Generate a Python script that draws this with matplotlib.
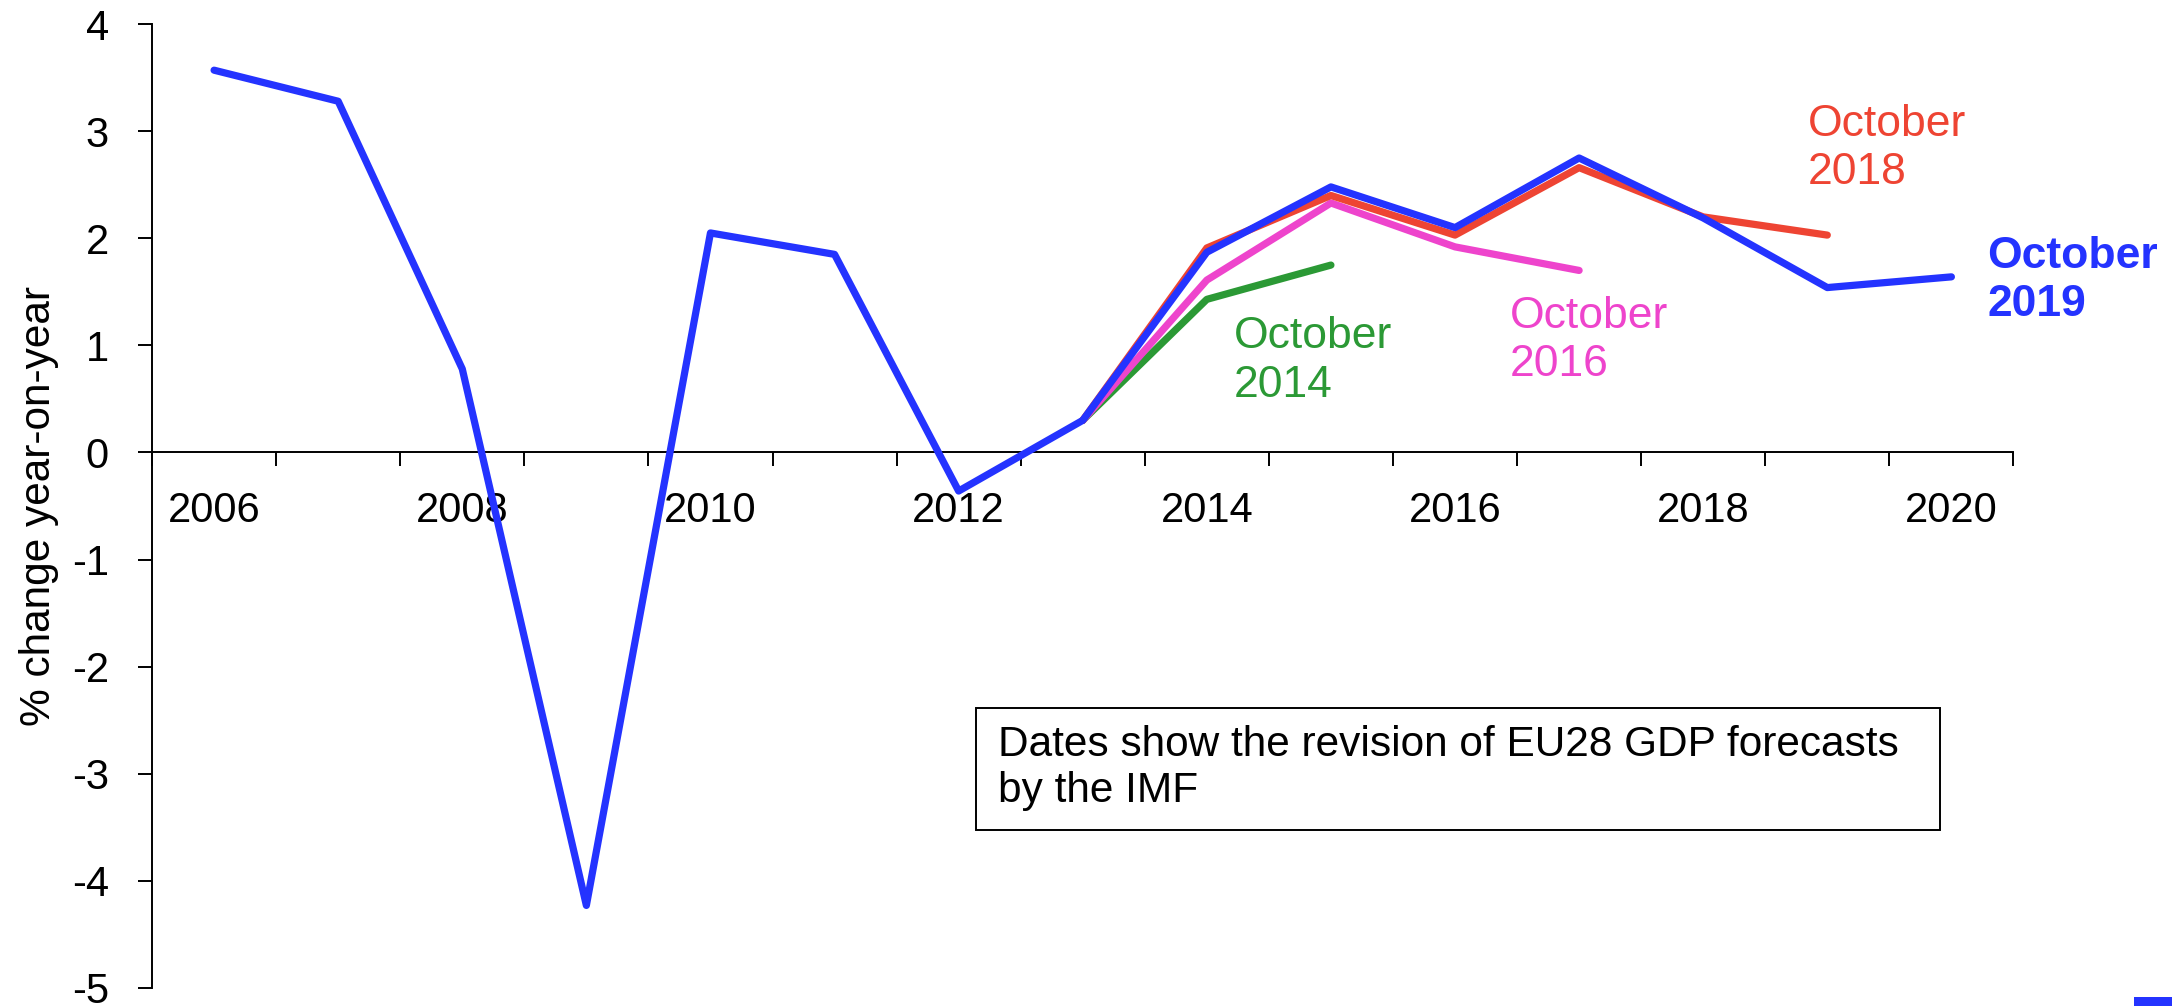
import numpy as np
import matplotlib
matplotlib.use("Agg")
import matplotlib.pyplot as plt
from matplotlib.patches import Rectangle
from matplotlib.ticker import FixedLocator, FixedFormatter, NullFormatter

plt.rcParams['font.family'] = ['Liberation Sans', 'DejaVu Sans']
plt.rcParams['axes.unicode_minus'] = False

# EU28 real GDP growth, % y/y, by IMF WEO vintage
years = list(range(2006, 2021))
oct2019 = [3.57, 3.28, 0.78, -4.23, 2.05, 1.85, -0.36, 0.30, 1.87, 2.48, 2.10, 2.75, 2.19, 1.54, 1.64]
# older vintages start from 2013
start = 2013
oct2018 = [0.30, 1.91, 2.40, 2.03, 2.66, 2.20, 2.03]
oct2016 = [0.30, 1.61, 2.33, 1.92, 1.70]
oct2014 = [0.30, 1.43, 1.75]

blue = '#2433FF'
red = '#EE4433'
pink = '#EE44CC'
green = '#2B9935'

x_all = np.arange(len(years))
x0 = years.index(start)

fig = plt.figure(figsize=(21.72, 10.06), dpi=100)
ax = fig.add_axes([0.070, 0.018, 0.857, 0.958])

lw = 5.2
ax.plot(x0 + np.arange(len(oct2014)), oct2014, color=green, lw=lw, solid_capstyle='round', zorder=2)
ax.plot(x0 + np.arange(len(oct2016)), oct2016, color=pink, lw=lw, solid_capstyle='round', zorder=3)
ax.plot(x0 + np.arange(len(oct2018)), oct2018, color=red, lw=lw, solid_capstyle='round', zorder=4)
ax.plot(x_all, oct2019, color=blue, lw=lw, solid_capstyle='round', zorder=5)

ax.set_xlim(-0.5, len(years) - 0.5)
ax.set_ylim(-5, 4)

for s in ['top', 'right']:
    ax.spines[s].set_visible(False)
ax.spines['bottom'].set_position(('data', 0))
ax.spines['bottom'].set_linewidth(1.4)
ax.spines['left'].set_linewidth(1.4)

# category axis: ticks between years, labels every other year
ax.xaxis.set_major_locator(FixedLocator(np.arange(len(years) + 1) - 0.5))
ax.xaxis.set_major_formatter(NullFormatter())
lab_pos = [i for i, y in enumerate(years) if y % 2 == 0]
ax.xaxis.set_minor_locator(FixedLocator(lab_pos))
ax.xaxis.set_minor_formatter(FixedFormatter([str(years[i]) for i in lab_pos]))
ax.tick_params(axis='x', which='major', direction='out', length=10, width=1.4)
ax.tick_params(axis='x', which='minor', length=0, pad=28, labelsize=30)

ax.set_yticks(range(-5, 5))
ax.tick_params(axis='y', direction='out', length=10, width=1.4, pad=21, labelsize=30)

ax.set_ylabel('% change year-on-year', fontsize=30.5)
ax.yaxis.set_label_coords(-0.050, 0.5)

tk = dict(fontsize=32, linespacing=1.22, va='top', ha='left')
ax.text(8.22, 1.27, 'October\n2014', color=green, **tk)
ax.text(10.44, 1.46, 'October\n2016', color=pink, **tk)
ax.text(12.84, 3.25, 'October\n2018', color=red, **tk)
ax.text(14.29, 2.02, 'October\n2019', color=blue, fontweight='bold', **tk)

# note box
ax.add_patch(Rectangle((0.4425, 0.164), 0.518, 0.1265, transform=ax.transAxes,
                       fill=False, ec='black', lw=1.4, clip_on=False))
ax.text(0.4543, 0.228, 'Dates show the revision of EU28 GDP forecasts\nby the IMF',
        transform=ax.transAxes, fontsize=30.5, linespacing=1.18, va='center', ha='left')

# clipped legend swatch at bottom-right corner
fig.add_artist(Rectangle((0.9825, 0.0), 0.0175, 0.009, transform=fig.transFigure,
                         color=blue, lw=0))

fig.savefig('out.png', dpi=100)
